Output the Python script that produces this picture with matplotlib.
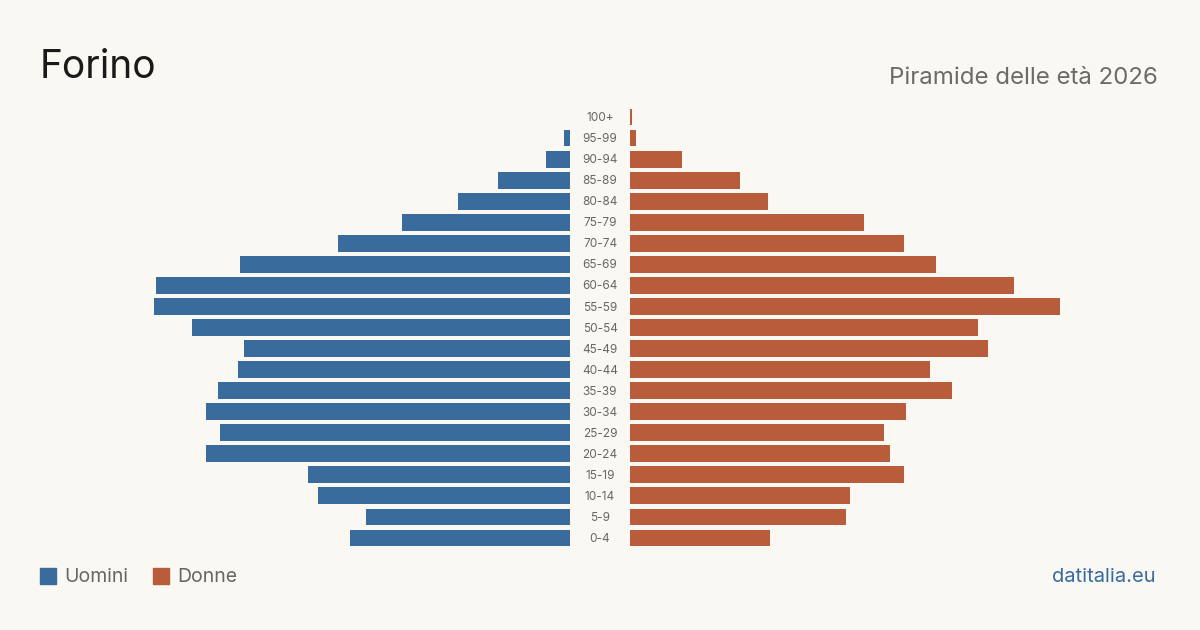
import numpy as np
import matplotlib.pyplot as plt
from matplotlib.patches import Rectangle

plt.rcParams['font.family'] = ['Inter', 'DejaVu Sans']

# dati (dal basso verso l'alto)
fasce = ["0-4", "5-9", "10-14", "15-19", "20-24", "25-29", "30-34", "35-39",
         "40-44", "45-49", "50-54", "55-59", "60-64", "65-69", "70-74",
         "75-79", "80-84", "85-89", "90-94", "95-99", "100+"]
uomini = [110, 102, 126, 131, 182, 175, 182, 176, 166, 163, 189, 208, 207,
          165, 116, 84, 56, 36, 12, 3, 0]
donne = [70, 108, 110, 137, 130, 127, 138, 161, 150, 179, 174, 215, 192,
         153, 137, 117, 69, 55, 26, 3, 1]

bg = '#f9f8f3'
blu = '#3a6b9d'
arancio = '#b95c3c'

fig = plt.figure(figsize=(12, 6.3), dpi=100, facecolor=bg)
ax = fig.add_axes([0, 1 - 548.5 / 630, 1, 442 / 630])
ax.set_facecolor(bg)

y = np.arange(len(fasce))
gap = 15
ax.barh(y, -np.array(uomini), left=-gap, height=0.8, color=blu)
ax.barh(y, donne, left=gap, height=0.8, color=arancio)
for yi, lab in zip(y, fasce):
    ax.text(0, yi - 0.05, lab, ha='center', va='center', fontsize=8.5, color='#666666')

ax.set_xlim(-300, 300)
ax.set_ylim(-0.5, len(fasce) - 0.5)
ax.axis('off')

fig.text(40 / 1200, 1 - 67 / 630, "Forino", fontsize=28, color='#1a1a1a',
         ha='left', va='center')
fig.text(1158 / 1200, 1 - 78 / 630, "Piramide delle età 2026", fontsize=17.3,
         color='#6b6b6b', ha='right', va='center')

# legenda
for x0, col, lab in [(40, blu, "Uomini"), (153, arancio, "Donne")]:
    fig.patches.append(Rectangle((x0 / 1200, 1 - 584 / 630), 16 / 1200, 16 / 630,
                                 transform=fig.transFigure, color=col))
    fig.text((x0 + 24) / 1200, 1 - 577 / 630, lab, fontsize=14, color='#666666',
             ha='left', va='center')

fig.text(1156 / 1200, 1 - 577 / 630, "datitalia.eu", fontsize=14.5, color=blu,
         ha='right', va='center')

fig.savefig('out.png', dpi=100, facecolor=bg)
